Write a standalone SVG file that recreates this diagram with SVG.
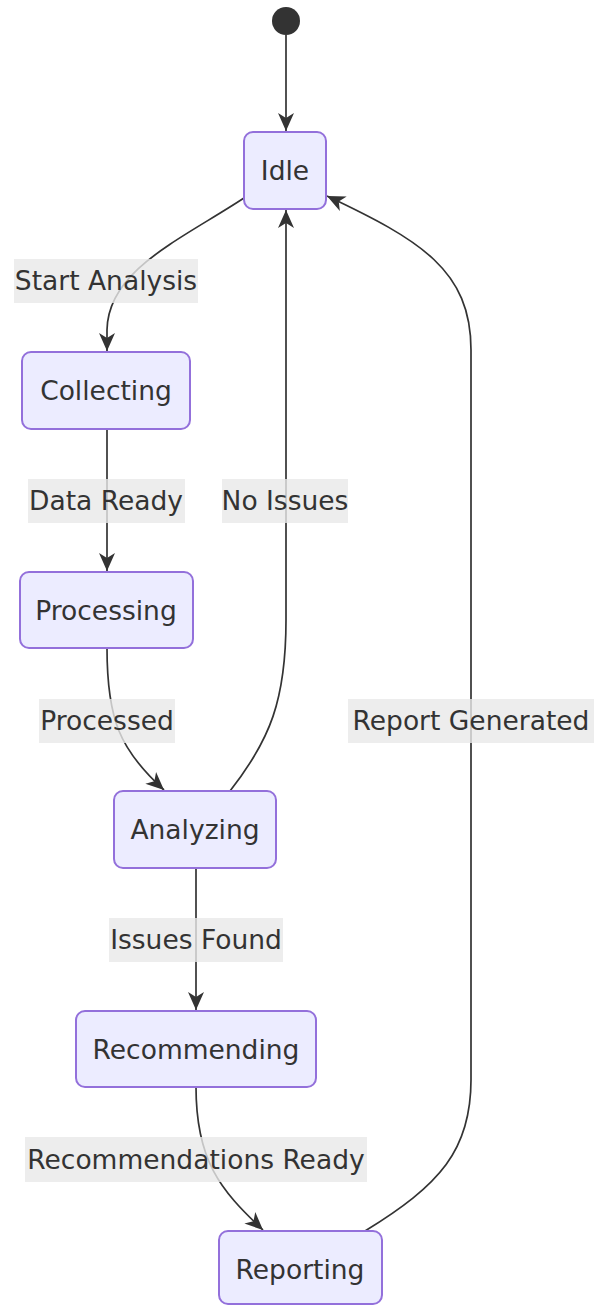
<svg xmlns="http://www.w3.org/2000/svg" width="598" height="1306" viewBox="0 0 598 1306">
  <style>
    .node rect { fill: #ECECFF; stroke: #9370DB; stroke-width: 2; }
    .node text, .label text { font-family: "DejaVu Sans", "Open Sans", sans-serif; font-size: 26.5px; fill: #333; text-anchor: middle; }
    .edge { fill: none; stroke: #333; stroke-width: 1.7; marker-end: url(#arrow); }
    .label rect { fill: #e8e8e8; fill-opacity: 0.8; }
  </style>
  <defs>
    <marker id="arrow" markerUnits="userSpaceOnUse" viewBox="0 0 20 20" refX="19" refY="10" markerWidth="20" markerHeight="20" orient="auto">
      <path d="M1,2 L19,10 L1,18 L6,10 Z" fill="#333"/>
    </marker>
  </defs>

  <g id="connectors">
    <line class="edge" x1="286" y1="35" x2="286" y2="131"/>
    <path class="edge" d="M244,198 C180,240 108,270 107,330 L107,351"/>
    <path class="edge" d="M107,429 L107,571"/>
    <path class="edge" d="M107,648 C107,720 120,750 164,790"/>
    <path class="edge" d="M230,791 C270,740 286,700 286,620 L286,210"/>
    <path class="edge" d="M196,868 L196,1010"/>
    <path class="edge" d="M196,1087 C196,1160 220,1190 263,1230"/>
    <path class="edge" d="M365,1231 C440,1185 471,1150 471,1080 L471,350 C471,270 420,240 327,196"/>
  </g>

  <g id="labels">
    <g class="label"><rect x="14" y="259" width="184" height="44"/><text x="106" y="290">Start Analysis</text></g>
    <g class="label"><rect x="28" y="479" width="157" height="44"/><text x="106" y="510">Data Ready</text></g>
    <g class="label"><rect x="222" y="479" width="126" height="44"/><text x="285" y="510">No Issues</text></g>
    <g class="label"><rect x="39" y="699" width="136" height="44"/><text x="107" y="730">Processed</text></g>
    <g class="label"><rect x="348" y="699" width="246" height="44"/><text x="471" y="730">Report Generated</text></g>
    <g class="label"><rect x="109" y="918" width="174" height="44"/><text x="196" y="949">Issues Found</text></g>
    <g class="label"><rect x="25" y="1137" width="342" height="45"/><text x="196" y="1169">Recommendations Ready</text></g>
  </g>

  <g id="start"><circle cx="286" cy="21" r="14" fill="#333"/></g>
  <g id="idle" class="node"><rect x="244" y="132" width="82" height="77" rx="9"/><text x="285" y="180">Idle</text></g>
  <g id="collecting" class="node"><rect x="22" y="352" width="168" height="77" rx="9"/><text x="106" y="400">Collecting</text></g>
  <g id="processing" class="node"><rect x="20" y="572" width="173" height="76" rx="9"/><text x="106" y="620">Processing</text></g>
  <g id="analyzing" class="node"><rect x="114" y="791" width="162" height="77" rx="9"/><text x="195" y="839">Analyzing</text></g>
  <g id="recommending" class="node"><rect x="76" y="1011" width="240" height="76" rx="9"/><text x="196" y="1059">Recommending</text></g>
  <g id="reporting" class="node"><rect x="219" y="1231" width="163" height="73" rx="9"/><text x="300" y="1279">Reporting</text></g>
</svg>
